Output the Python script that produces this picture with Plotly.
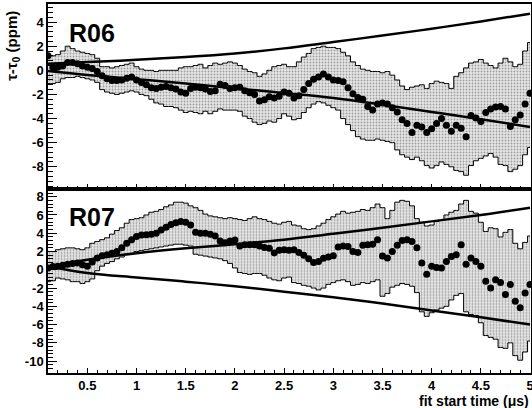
import plotly.graph_objects as go

# time grid (fit start time, us)
t = [round(0.10 + 0.05 * i, 2) for i in range(99)]

# ---------- R06 ----------
r06_center = [1.20, 0.25, 0.25, 0.35, 0.65, 0.65, 0.55, 0.35, 0.25, 0.15,
              -0.10, -0.45, -0.70, -0.85, -0.85, -0.80, -0.65, -0.55, -0.80, -1.00,
              -1.20, -1.45, -1.50, -1.40, -1.35, -1.45, -1.55, -1.80, -1.90, -1.50,
              -1.40, -1.45, -1.55, -1.75, -1.70, -1.15, -1.25, -1.50, -1.45, -1.40,
              -1.70, -1.85, -2.00, -2.55, -2.45, -2.20, -2.30, -2.15, -1.80, -1.90,
              -2.30, -2.10, -1.60, -1.10, -0.75, -0.55, -0.30, -0.55, -0.80, -0.85,
              -0.95, -1.45, -1.95, -2.25, -2.40, -3.00, -3.30, -2.80, -2.70, -2.80,
              -3.10, -3.45, -4.10, -4.40, -5.15, -4.55, -4.70, -5.15, -4.85, -4.40,
              -4.00, -4.55, -5.05, -4.55, -4.80, -5.50, -3.75, -3.95, -4.25, -3.50,
              -3.20, -3.05, -3.00, -3.20, -4.65, -4.10, -3.70, -2.80, -1.90]
r06_upper = [1.1, 1.2, 1.3, 1.6, 2.0, 1.8, 1.6, 1.5, 1.4, 1.3,
             1.0, 0.3, 0.3, 0.2, 0.3, 0.4, 0.5, 0.6, 0.3, 0.1,
             0.0, 0.0, -0.1, 0.0, 0.0, 0.0, 0.0, 0.2, 0.3, 0.3,
             0.4, 0.5, 0.2, 0.4, 0.6, 0.5, 0.6, 0.7, 0.6, 0.4,
             0.1, -0.1, -0.2, -0.5, -0.3, 0.0, 0.3, 0.4, 0.5, 0.3,
             0.3, 0.7, 1.1, 1.4, 1.8, 1.9, 2.0, 1.9, 1.9, 1.8,
             1.5, 1.2, 0.7, 0.4, 0.1, 0.0, -0.1, -0.1, -0.2, -0.1,
             -0.4, -0.8, -1.3, -1.6, -1.4, -1.3, -1.2, -1.5, -1.1, -0.9,
             -1.0, -1.1, -1.5, -0.5, -0.2, 0.2, 0.6, 0.7, 0.9, 0.6,
             0.4, 0.2, 0.6, 1.0, 0.7, 0.3, 0.5, 1.6, 2.3]
r06_lower = [-1.1, -1.1, -1.0, -0.7, -0.6, -0.6, -0.5, -0.6, -0.7, -0.8,
             -1.0, -1.6, -1.8, -1.9, -2.0, -1.9, -1.8, -1.7, -1.8, -2.0,
             -2.1, -2.4, -2.7, -2.8, -3.0, -3.0, -3.1, -3.3, -3.5, -3.4,
             -3.5, -3.6, -3.4, -3.6, -3.4, -3.2, -3.3, -3.3, -3.3, -3.4,
             -3.8, -4.0, -4.3, -4.5, -4.4, -4.2, -4.3, -4.0, -3.6, -3.8,
             -4.1, -4.0, -3.5, -3.1, -2.8, -2.6, -2.7, -2.9, -3.1, -3.3,
             -4.0, -4.5, -5.0, -5.5, -5.7, -5.8, -5.8, -5.7, -5.8, -5.9,
             -6.0, -6.6, -7.0, -7.2, -7.4, -7.2, -7.5, -7.9, -8.1, -7.9,
             -7.6, -7.8, -8.0, -8.3, -8.4, -8.7, -7.9, -7.5, -7.3, -7.1,
             -6.9, -7.2, -7.8, -7.9, -8.4, -8.2, -7.9, -7.0, -6.4]

# ---------- R07 ----------
r07_center = [0.20, 0.35, 0.40, 0.50, 0.60, 0.70, 0.75, 0.55, 0.40, 0.85,
              1.30, 1.55, 1.65, 1.80, 2.00, 2.40, 2.90, 3.30, 3.65, 3.80,
              3.85, 3.90, 4.00, 4.35, 4.65, 4.95, 5.15, 5.30, 5.20, 4.90,
              4.10, 4.00, 4.00, 3.90, 3.70, 3.15, 2.95, 3.15, 3.25, 2.60,
              2.75, 2.75, 2.75, 2.60, 2.45, 2.35, 1.85, 2.15, 2.20, 2.15,
              2.20, 1.90, 1.60, 1.20, 0.80, 0.90, 1.25, 1.40, 1.55, 2.50,
              2.60, 2.55, 2.00, 1.90, 2.70, 2.75, 2.80, 3.30, 1.50, 1.30,
              2.00, 2.70, 3.20, 3.30, 3.10, 2.40, 0.75, -0.50, 0.40, 0.25,
              0.20, 0.90, 1.45, 1.65, 2.75, 0.60, 1.30, 0.90, 0.40, -1.25,
              -2.00, -1.10, -1.40, -2.70, -1.60, -3.45, -4.15, -2.55, -1.60]
r07_upper = [2.0, 2.0, 2.2, 2.3, 2.4, 2.4, 2.3, 2.2, 2.4, 2.9,
             3.1, 3.3, 3.5, 3.9, 4.3, 4.6, 5.1, 5.5, 5.6, 5.7,
             6.0, 6.3, 6.4, 6.6, 6.9, 7.1, 7.4, 7.4, 7.3, 7.0,
             6.8, 6.5, 6.1, 5.9, 5.8, 5.7, 5.6, 5.7, 5.6, 5.5,
             5.4, 5.6, 5.8, 5.6, 5.5, 5.3, 5.1, 5.0, 5.2, 5.3,
             4.9, 4.8, 4.5, 4.4, 4.5, 4.8, 5.1, 5.5, 5.8, 6.1,
             6.4, 6.2, 6.3, 6.4, 6.6, 6.5, 6.8, 7.2, 6.8, 5.6,
             6.5, 7.4, 7.6, 7.5, 7.0, 5.6, 5.2, 4.8, 4.9, 5.3,
             5.4, 6.0, 6.3, 6.5, 7.2, 7.6, 6.4, 6.2, 5.2, 4.2,
             4.6, 4.5, 3.6, 4.1, 4.4, 2.9, 2.3, 3.0, 3.7]
r07_lower = [-1.3, -1.2, -0.9, -1.0, -1.1, -1.3, -1.3, -1.5, -1.3, -1.0,
             -0.1, 0.4, 0.7, 0.9, 1.2, 1.4, 1.7, 1.8, 2.0, 2.1,
             2.2, 2.3, 2.4, 2.5, 2.6, 2.7, 2.8, 2.8, 2.7, 2.6,
             1.7, 1.6, 1.5, 1.4, 1.3, 1.2, 1.0, 0.7, 0.2, -0.3,
             -0.4, -0.5, -0.4, -0.4, -0.6, -0.9, -1.1, -1.2, -0.9, -0.8,
             -1.4, -1.5, -1.7, -1.8, -2.0, -2.2, -2.0, -1.6, -1.4, -1.2,
             -1.1, -1.3, -1.7, -1.6, -1.4, -1.5, -1.3, -1.1, -2.9, -2.6,
             -1.9, -1.7, -1.5, -1.6, -1.8, -2.5, -4.6, -5.1, -4.7, -4.4,
             -4.2, -4.0, -3.3, -2.8, -2.6, -4.6, -4.9, -5.0, -5.8, -7.2,
             -7.4, -7.6, -8.5, -8.6, -8.0, -9.4, -9.9, -9.0, -7.8]

# envelope lines (sampled every 0.5 us)
t_env = [0.1, 0.5, 1.0, 1.5, 2.0, 2.5, 3.0, 3.5, 4.0, 4.5, 5.0]
r06_env_up = [0.55, 0.68, 0.87, 1.10, 1.40, 1.82, 2.35, 2.88, 3.45, 4.05, 4.70]
r06_env_dn = [-0.05, -0.38, -0.73, -1.10, -1.48, -1.88, -2.30, -2.85, -3.45, -4.05, -4.70]
r07_env_up = [0.30, 1.10, 1.80, 2.35, 2.80, 3.30, 3.95, 4.60, 5.30, 6.00, 6.80]
r07_env_dn = [0.40, -0.35, -0.85, -1.30, -1.80, -2.40, -3.00, -3.70, -4.45, -5.20, -6.00]

x_ticks = [0.5, 1, 1.5, 2, 2.5, 3, 3.5, 4, 4.5, 5]
x_ticktext = ["0.5", "1", "1.5", "2", "2.5", "3", "3.5", "4", "4.5", "5"]
y06_ticks = [-8, -6, -4, -2, 0, 2, 4]
y07_ticks = [-10, -8, -6, -4, -2, 0, 2, 4, 6, 8]

FONT = "Liberation Sans"
fig = go.Figure()

def add_panel(xa, ya, up, lo, cen, eu, ed):
    fig.add_trace(go.Scatter(x=t, y=up, xaxis=xa, yaxis=ya, mode="lines",
                             line=dict(color="black", width=1, shape="hvh"),
                             hoverinfo="skip", showlegend=False))
    fig.add_trace(go.Scatter(x=t, y=lo, xaxis=xa, yaxis=ya, mode="lines",
                             line=dict(color="black", width=1, shape="hvh"),
                             fill="tonexty", fillcolor="#d8d8d8",
                             fillpattern=dict(shape=".", bgcolor="#e6e6e6", fgcolor="#555555",
                                              size=3, solidity=0.3),
                             hoverinfo="skip", showlegend=False))
    for env in (eu, ed):
        fig.add_trace(go.Scatter(x=t_env, y=env, xaxis=xa, yaxis=ya, mode="lines",
                                 line=dict(color="black", width=2.5, shape="spline"),
                                 showlegend=False))
    fig.add_trace(go.Scatter(x=t, y=cen, xaxis=xa, yaxis=ya, mode="markers",
                             marker=dict(color="black", size=7),
                             showlegend=False))

add_panel("x2", "y2", r06_upper, r06_lower, r06_center, r06_env_up, r06_env_dn)
add_panel("x", "y", r07_upper, r07_lower, r07_center, r07_env_up, r07_env_dn)

tickfont = dict(family=FONT, size=13, color="black", weight="bold")
xcommon = dict(range=[0.1, 5.01], showline=True, linecolor="black", linewidth=1.5, mirror=True,
               ticks="inside", ticklen=5, tickwidth=1, tickcolor="black",
               tickvals=x_ticks, ticktext=x_ticktext, tickfont=tickfont, automargin=False,
               ticklabeloverflow="allow",
               minor=dict(tickmode="linear", tick0=0, dtick=0.1, ticks="inside", ticklen=3,
                          tickcolor="black", tickwidth=1),
               showgrid=False, zeroline=False)
ycommon = dict(showline=True, linecolor="black", linewidth=1.5, mirror=True,
               ticks="inside", ticklen=9, tickwidth=1, tickcolor="black",
               tickfont=tickfont, automargin=False,
               minor=dict(tickmode="linear", tick0=0, dtick=0.4, ticks="inside", ticklen=5,
                          tickcolor="black", tickwidth=1),
               showgrid=False, zeroline=False)

fig.update_layout(
    width=532, height=408,
    margin=dict(l=48, r=1, t=4, b=35),
    paper_bgcolor="white", plot_bgcolor="white",
    font=dict(family=FONT, color="black"),
    xaxis=dict(anchor="y", domain=[0, 1], **xcommon),
    xaxis2=dict(anchor="y2", domain=[0, 1], matches="x", showticklabels=False,
                **{k: v for k, v in xcommon.items() if k not in ("tickfont",)}),
    yaxis=dict(anchor="x", domain=[0, 0.5], range=[-11.3, 8.9],
               tickvals=y07_ticks, ticktext=[str(v) for v in y07_ticks], **ycommon),
    yaxis2=dict(anchor="x2", domain=[0.5, 1], range=[-9.8, 5.5],
                tickvals=y06_ticks, ticktext=[str(v) for v in y06_ticks], **ycommon),
    annotations=[
        dict(text="R06", xref="paper", yref="paper", x=0.04, y=0.965, xanchor="left", yanchor="top",
             showarrow=False, font=dict(family=FONT, size=25, color="black", weight="bold")),
        dict(text="R07", xref="paper", yref="paper", x=0.04, y=0.467, xanchor="left", yanchor="top",
             showarrow=False, font=dict(family=FONT, size=25, color="black", weight="bold")),
        dict(text="τ-τ<sub>0</sub> (ppm)", xref="paper", yref="paper", x=-0.075, y=0.886,
             xanchor="center", yanchor="middle", textangle=-90, showarrow=False,
             font=dict(family=FONT, size=15, color="black", weight="bold")),
        dict(text="fit start time (μs)", xref="paper", yref="paper", x=1.0, y=-0.077,
             xanchor="right", yanchor="middle", showarrow=False,
             font=dict(family=FONT, size=14, color="black", weight="bold")),
    ],
)

fig.write_html("out.html", config={"displayModeBar": False},
               post_script="document.body.style.margin='0';document.body.style.padding='0';")
